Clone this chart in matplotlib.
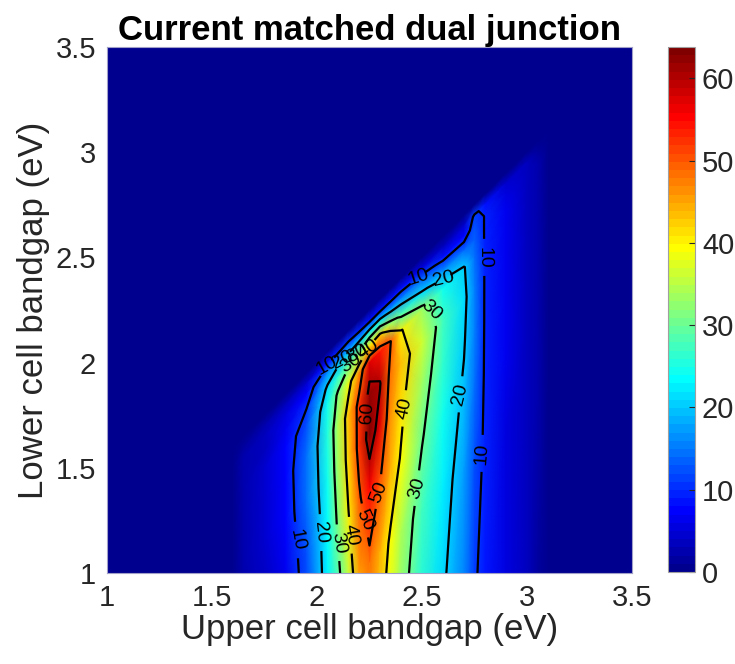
import matplotlib
matplotlib.use("Agg")
import matplotlib.pyplot as plt
from matplotlib.colors import ListedColormap
import numpy as np

plt.rcParams["font.family"] = ["Liberation Sans", "DejaVu Sans"]

# grid: columns at fixed upper-cell gap, rows at fixed (upper - lower) gap difference
upper_gap = [1.60, 1.65, 1.75, 1.85, 1.95, 2.05, 2.10, 2.15, 2.20, 2.25, 2.30,
             2.35, 2.40, 2.50, 2.60, 2.70, 2.75, 2.80, 2.90, 3.00, 3.05, 3.10]
gap_diff = [0.00, 0.05, 0.10, 0.17, 0.25, 0.40, 0.60, 0.85, 1.20, 2.10]

# efficiency (%) along each upper-gap column, one value per gap_diff row
eff_by_upper = [
    [0, 0, 0, 0, 0, 0, 0, 0, 0, 0],                              # 1.60
    [0, 1.5, 2, 2, 2, 2, 2, 2, 2, 2],                            # 1.65
    [0, 2, 3, 3.8, 4, 4, 4, 3.9, 3.8, 3.8],                      # 1.75
    [0, 3, 5, 6.5, 7.5, 7.4, 7.1, 6.7, 6.4, 6.2],                # 1.85
    [0, 4.5, 7, 10, 12.5, 14.5, 14, 12.2, 11, 10],               # 1.95
    [0, 8, 16, 21, 24, 25, 24.5, 23.5, 22.5, 21],                # 2.05
    [0, 9, 18, 26, 31, 34, 33, 31, 27.5, 25],                    # 2.10
    [0, 10, 19, 30, 38, 43, 42.5, 40, 35.5, 31],                 # 2.15
    [0, 9, 20, 34, 46, 52, 52, 49, 45, 39],                      # 2.20
    [0, 8, 22, 40, 57, 62, 63.8, 55, 48.5, 41],                  # 2.25
    [0, 8, 22, 42, 54, 60.5, 57, 50.5, 44, 37],                  # 2.30
    [0, 8, 18, 34, 50.3, 48, 46, 44, 39, 33],                    # 2.35
    [0, 8, 16, 28, 40.5, 43, 41.5, 39.5, 34, 29],                # 2.40
    [0, 5, 13, 21, 33, 36, 33, 30.5, 27, 22],                    # 2.50
    [0, 3.5, 8, 17, 24, 27, 26, 24.5, 22.5, 19],                 # 2.60
    [0, 4, 7.5, 14, 20.5, 21.5, 20.5, 19, 17, 14],               # 2.70
    [0, 11, 12, 13, 14.5, 15.5, 15, 14, 12.5, 10],               # 2.75
    [0, 8.5, 9.8, 9.7, 9.6, 9.6, 9.6, 9.5, 9.2, 8.3],            # 2.80
    [0, 4.5, 5.5, 6, 6, 6, 6, 6, 5.8, 5.3],                      # 2.90
    [0, 3, 3.5, 3.5, 3.5, 3.5, 3.5, 3.5, 3.4, 3.2],              # 3.00
    [0, 1.8, 2, 2, 2, 2, 2, 2, 2, 1.9],                          # 3.05
    [0, 0, 0, 0, 0, 0, 0, 0, 0, 0],                              # 3.10
]

contour_levels = [10, 20, 30, 40, 50, 60]
axis_ticks = [1, 1.5, 2, 2.5, 3, 3.5]
axis_ticklabels = ["1", "1.5", "2", "2.5", "3", "3.5"]
cbar_ticks = [0, 10, 20, 30, 40, 50, 60]

# where the contour labels sit (snapped to the nearest line)
label_spots = [
    (2.79, 2.50), (2.78, 1.57), (1.91, 1.16), (2.48, 2.41), (2.05, 1.98),
    (2.70, 1.84), (2.60, 2.40), (2.01, 1.19), (2.12, 2.03),
    (2.57, 2.29), (2.48, 1.40), (2.09, 1.14), (2.16, 2.01),
    (2.42, 1.78), (2.16, 1.18), (2.19, 2.04),
    (2.30, 1.38), (2.20, 1.22), (2.24, 2.07),
    (2.24, 1.76),
]


def matlab_jet(n=64):
    # same construction as MATLAB's jet(n)
    m = int(np.ceil(n / 4))
    u = np.concatenate([np.arange(1, m + 1) / m, np.ones(m - 1), np.arange(m, 0, -1) / m])
    g = int(np.ceil(m / 2)) - (1 if n % 4 == 1 else 0) + np.arange(len(u))
    r = g + m
    b = g - m
    cols = np.zeros((n, 3))
    ok = r < n
    cols[r[ok], 0] = u[ok]
    ok = (g >= 0) & (g < n)
    cols[g[ok], 1] = u[ok]
    ok = b >= 0
    cols[b[ok], 2] = u[ok]
    return ListedColormap(cols)


cmap = matlab_jet(64)

U, D = np.meshgrid(upper_gap, gap_diff)
lower_gap = U - D
Z = np.array(eff_by_upper).T

fig = plt.figure(figsize=(7.35, 6.64), dpi=100)
ax = fig.add_axes([107 / 735, 1 - 573 / 664, 525 / 735, 526 / 664])
cax = fig.add_axes([668 / 735, 1 - 572 / 664, 27 / 735, 525 / 664])

ax.set_facecolor(cmap(0))
mesh = ax.pcolormesh(U, lower_gap, Z, shading="gouraud", cmap=cmap,
                     vmin=0, vmax=Z.max())
cs = ax.contour(U, lower_gap, Z, levels=contour_levels, colors="k", linewidths=1.6)
ax.clabel(cs, fmt="%d", fontsize=14, inline=True, inline_spacing=2,
          manual=label_spots)

ax.set_xlim(1, 3.5)
ax.set_ylim(1, 3.5)
ax.set_xticks(axis_ticks)
ax.set_xticklabels(axis_ticklabels)
ax.set_yticks(axis_ticks)
ax.set_yticklabels(axis_ticklabels)
ax.tick_params(length=0, labelsize=21, labelcolor="#262626", pad=8)
for sp in ax.spines.values():
    sp.set_color("#a0a0c8")
    sp.set_linewidth(0.8)

ax.set_xlabel("Upper cell bandgap (eV)", fontsize=25, color="#262626", labelpad=1)
ax.set_ylabel("Lower cell bandgap (eV)", fontsize=25, color="#262626", labelpad=4)
ax.set_title("Current matched dual junction", fontsize=25, fontweight="bold", pad=4)

cb = fig.colorbar(mesh, cax=cax)
cb.set_ticks(cbar_ticks)
cb.ax.tick_params(direction="in", length=4, width=0.8, color="#262626",
                  labelsize=21, labelcolor="#262626", pad=5)
cb.outline.set_edgecolor("#a0a0a0")
cb.outline.set_linewidth(0.8)

fig.savefig("out.png", dpi=100)
